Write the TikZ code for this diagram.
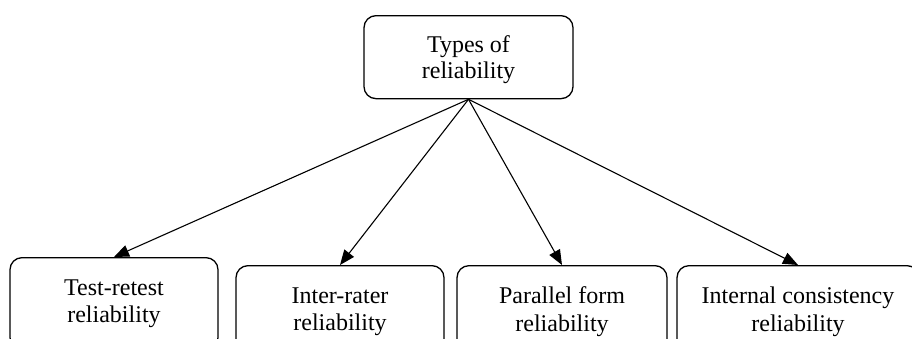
\documentclass[tikz,border=0pt]{standalone}
\usepackage{fontspec}
\setmainfont{Liberation Serif}
\usetikzlibrary{arrows.meta}
\begin{document}
\begin{tikzpicture}[x=1pt,y=-1pt,
  box/.style={draw, line width=1.3pt, rounded corners=12pt, align=center,
    inner sep=0pt, font=\fontsize{24}{27.5}\selectfont, anchor=north},
  link/.style={line width=1.1pt, -{Triangle[length=15pt,width=12pt]}}]
  \useasboundingbox (0,0) rectangle (912,338);
  \clip (0,0) rectangle (912,338);
  % root
  \node[box, minimum width=209pt, minimum height=83pt] (root) at (468.5,15)
    {\rule{0pt}{22pt}Types of\\[-1pt]reliability};
  % children (boxes run past the lower edge)
  \node[box, minimum width=208pt, minimum height=92pt] (tr) at (114,257)
    {Test-retest\\reliability};
  \node[box, minimum width=208pt, minimum height=92pt] (ir) at (340,265)
    {Inter-rater\\reliability};
  \node[box, minimum width=210pt, minimum height=92pt] (pf) at (562,265)
    {Parallel form\\reliability};
  \node[box, minimum width=242pt, minimum height=92pt] (ic) at (798,265)
    {Internal consistency\\reliability};
  % connectors
  \foreach \t in {tr,ir,pf,ic}
    \draw[link] (root.south) -- (\t.north);
\end{tikzpicture}
\end{document}
